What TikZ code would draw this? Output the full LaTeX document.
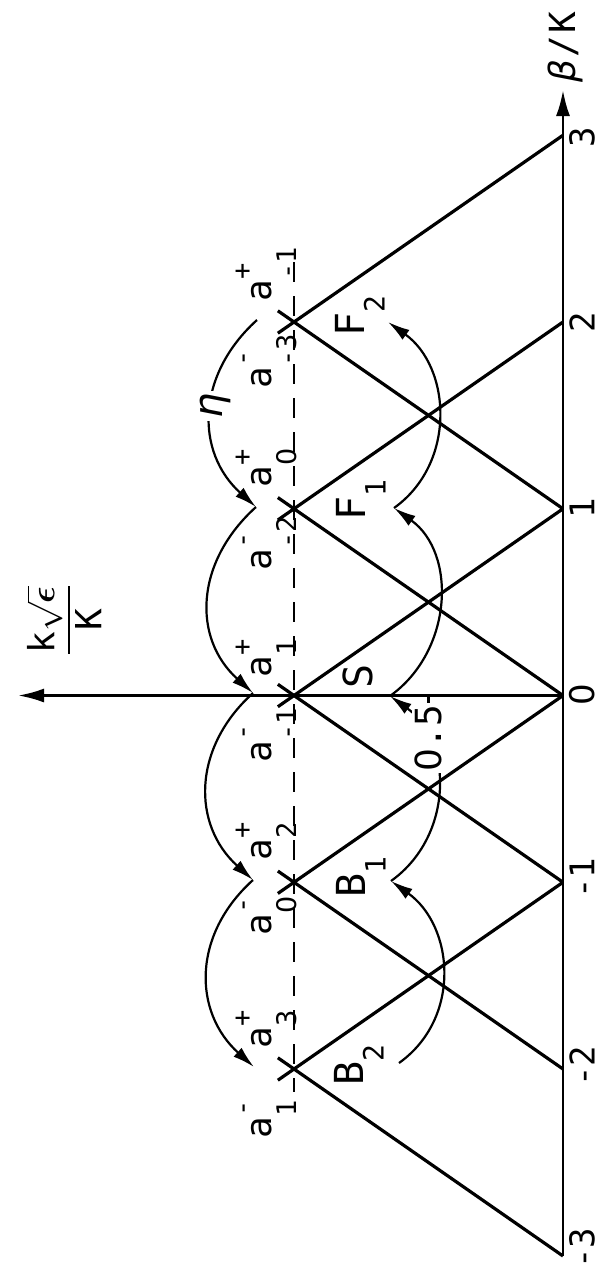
\documentclass[tikz,border=0pt]{standalone}
\usepackage{amsmath}
\usepackage{fontspec}
\setmainfont{DejaVu Sans Mono}
\newfontfamily\zf{DejaVu Sans}
\usetikzlibrary{arrows.meta,calc}
\newcommand{\ssz}{\fontsize{13.5}{13.5}\selectfont}
\newcommand{\rsz}{\fontsize{14}{14}\selectfont}
\newcommand{\zr}{{\zf 0}}
\newcommand{\alab}[2]{a\makebox[0pt][l]{\raisebox{-12.5pt}{\ssz #1}}\raisebox{10pt}{\ssz #2}}
\newcommand{\slab}[2]{#1\raisebox{-10pt}{\rsz #2}}
\begin{document}
\begin{tikzpicture}[x=0.5pt,y=-0.5pt,
  tri/.style={line width=1.6pt},
  axisline/.style={line width=1.35pt},
  arcline/.style={line width=1.1pt,-{Latex[length=11pt,width=6pt]}},
  lbl/.style={rotate=90,inner sep=0pt,font=\fontsize{18}{18}\selectfont},
  tck/.style={rotate=90,inner sep=0pt,font=\fontsize{17}{17}\selectfont},
  reg/.style={rotate=90,inner sep=0pt,font=\fontsize{20}{20}\selectfont},
]
\useasboundingbox (0,0) rectangle (603,1266);
% base points on the beta/K axis
\coordinate (bm3) at (563,1256);
\coordinate (bm2) at (563,1069);
\coordinate (bm1) at (563,882.25);
\coordinate (b0) at (563,695.5);
\coordinate (b1) at (563,508.75);
\coordinate (b2) at (563,322);
\coordinate (b3) at (563,135.25);
% apexes
\coordinate (pm2) at (294,1069);
\coordinate (pm1) at (294,882.25);
\coordinate (p0) at (294,695.5);
\coordinate (p1) at (294,508.75);
\coordinate (p2) at (294,322);
% triangle lines (extended a little past the apex to form crosses)
\draw[tri] (bm3) -- ($(bm3)!1.06!(pm2)$);
\draw[tri] (bm1) -- ($(bm1)!1.06!(pm2)$);
\draw[tri] (bm2) -- ($(bm2)!1.06!(pm1)$);
\draw[tri] (b0) -- ($(b0)!1.06!(pm1)$);
\draw[tri] (bm1) -- ($(bm1)!1.06!(p0)$);
\draw[tri] (b1) -- ($(b1)!1.06!(p0)$);
\draw[tri] (b0) -- ($(b0)!1.06!(p1)$);
\draw[tri] (b2) -- ($(b2)!1.06!(p1)$);
\draw[tri] (b1) -- ($(b1)!1.06!(p2)$);
\draw[tri] (b3) -- ($(b3)!1.06!(p2)$);
% dashed line through the apexes
\coordinate (dtop) at (294,262);
\coordinate (dbot) at (294,1092);
\draw[line width=0.85pt,dash pattern=on 10pt off 7pt] (dtop) -- (dbot);
% axes
\coordinate (btip) at (563,90);
\coordinate (ktip) at (18,695.5);
\draw[axisline,-{Latex[length=13pt,width=7pt]}] (bm3) -- (btip);
\draw[axisline,-{Latex[length=13pt,width=7pt]}] (b0) -- (ktip);
% tick at 0.5
\coordinate (h) at (428.5,695.5);
\coordinate (hb) at (428.5,711);
\draw[axisline] (h) -- (hb);
% tick labels
\node[tck] (t3) at (582,137) {3};
\node[tck] (t2) at (582,322) {2};
\node[tck] (t1) at (582,508) {1};
\node[tck] (t0) at (582,695) {\zr};
\node[tck] (tm1) at (582,878) {-1};
\node[tck] (tm2) at (582,1066) {-2};
\node[tck] (tm3) at (582,1248) {-3};
\node[lbl] (blab) at (565,47) {{\zf\itshape β}\hspace{1pt}/\hspace{1pt}K};
\node[rotate=90,inner sep=0pt,font=\fontsize{18}{18}\selectfont] (klab) at (64,620) {$\dfrac{\text{k}\sqrt{\boldsymbol{\epsilon}}}{\text{K}}$};
% left arcs
\coordinate (L2) at (257,320);
\coordinate (L1) at (256,507);
\coordinate (L0) at (253,693);
\coordinate (Lm1) at (253,880);
\coordinate (Lm2) at (254,1067);
\draw[arcline] (L2) .. controls ($(L2)+(-61,55)$) and ($(L1)+(-61,-55)$) .. (L1);
\draw[arcline] (L1) .. controls ($(L1)+(-61,55)$) and ($(L0)+(-61,-55)$) .. (L0);
\draw[arcline] (L0) .. controls ($(L0)+(-61,55)$) and ($(Lm1)+(-61,-55)$) .. (Lm1);
\draw[arcline] (Lm1) .. controls ($(Lm1)+(-61,55)$) and ($(Lm2)+(-61,-55)$) .. (Lm2);
\node[reg,fill=white,inner sep=1pt] (eta) at (215,406) {{\zf\itshape η}};
% right arcs
\coordinate (Rm2) at (399,1063);
\coordinate (Rm1) at (391,881);
\coordinate (R0) at (390,696);
\coordinate (R1) at (394,508);
\coordinate (R2) at (388,322);
\draw[arcline] (Rm2) .. controls ($(Rm2)+(63,-45)$) and ($(Rm1)+(63,45)$) .. (Rm1);
\draw[arcline] (Rm1) .. controls ($(Rm1)+(63,-45)$) and ($(R0)+(63,45)$) .. (R0);
\draw[arcline] (R0) .. controls ($(R0)+(63,-45)$) and ($(R1)+(63,45)$) .. (R1);
\draw[arcline] (R1) .. controls ($(R1)+(63,-45)$) and ($(R2)+(63,45)$) .. (R2);
\node[lbl,fill=white,inner sep=1pt] (half) at (428,738) {\zr.5};
% region labels
\node[reg] (lS) at (358,676) {S};
\node[reg] (lF1) at (361,500) {\slab{F}{1}};
\node[reg] (lF2) at (360,316) {\slab{F}{2}};
\node[reg] (lB1) at (361,877) {\slab{B}{1}};
\node[reg] (lB2) at (359,1065) {\slab{B}{2}};
% mode labels
\node[lbl,anchor=base west] (a1) at (271,302) {\alab{-1}{+}};
\node[lbl,anchor=base west] (a2) at (271,389) {\alab{-3}{-}};
\node[lbl,anchor=base west] (a3) at (271,488) {\alab{\zr}{+}};
\node[lbl,anchor=base west] (a4) at (271,571) {\alab{-2}{-}};
\node[lbl,anchor=base west] (a5) at (271,678) {\alab{1}{+}};
\node[lbl,anchor=base west] (a6) at (271,763) {\alab{-1}{-}};
\node[lbl,anchor=base west] (a7) at (271,861) {\alab{2}{+}};
\node[lbl,anchor=base west] (a8) at (271,936) {\alab{\zr}{-}};
\node[lbl,anchor=base west] (a9) at (271,1049) {\alab{3}{+}};
\node[lbl,anchor=base west] (a10) at (271,1139) {\alab{1}{-}};
\end{tikzpicture}
\end{document}
